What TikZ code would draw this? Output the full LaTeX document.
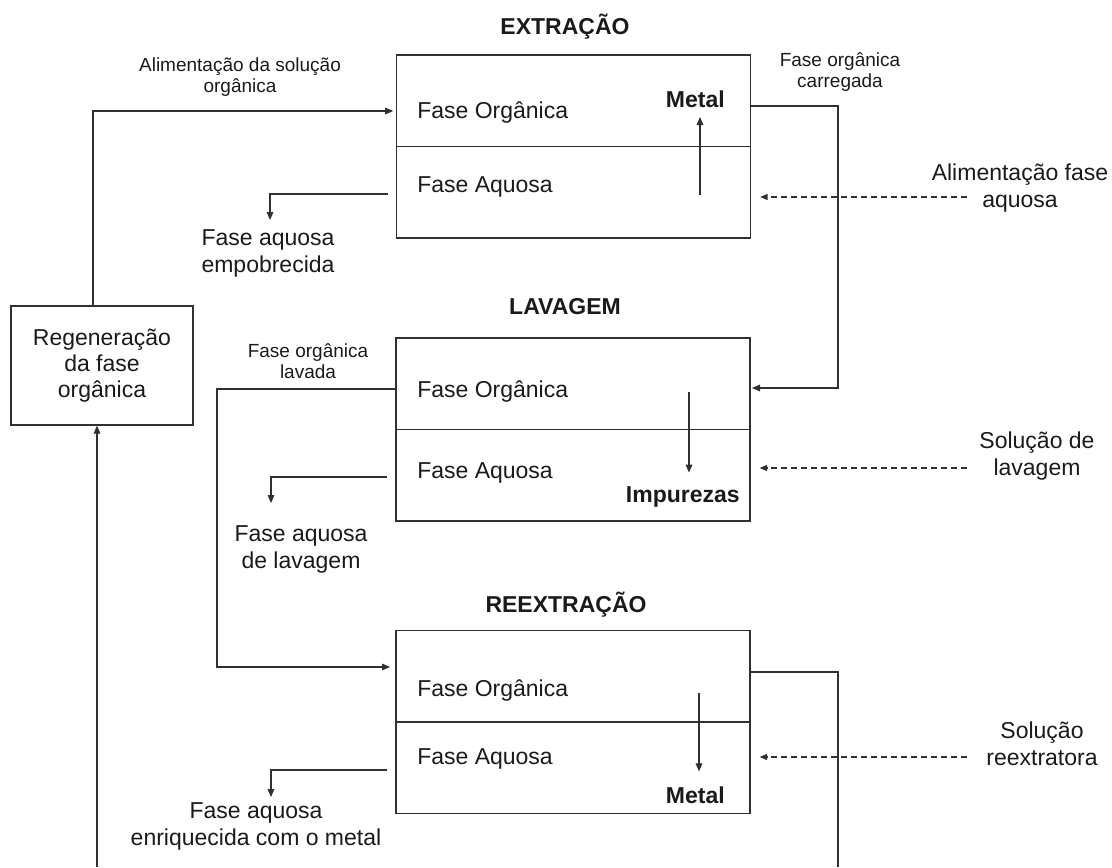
\documentclass[tikz,border=0pt]{standalone}
\usepackage{fontspec}
\setmainfont{Liberation Sans}
\usetikzlibrary{arrows.meta,calc}
\definecolor{linec}{HTML}{303030}
\definecolor{txt}{HTML}{1A1A1A}
\begin{document}
\begin{tikzpicture}[x=0.75pt,y=-0.75pt,
  every node/.style={text=txt, inner sep=0pt},
  lbl/.style={font=\fontsize{17.25}{20.25}\selectfont, align=center},
  small/.style={font=\fontsize{14.25}{15.75}\selectfont, align=center},
  title/.style={font=\bfseries\fontsize{17.25}{20.25}\selectfont, anchor=base},
  tag/.style={font=\bfseries\fontsize{17.25}{20.25}\selectfont, anchor=base east},
  phase/.style={font=\fontsize{17.25}{20.25}\selectfont, anchor=base west},
  stage/.style={draw=linec, line width=1pt, minimum width=265.5pt, minimum height=137.25pt},
  regenbox/.style={draw=linec, line width=1pt, minimum width=136.5pt, minimum height=89.25pt,
    align=center, font=\fontsize{17.25}{19.5}\selectfont},
  plain/.style={draw=linec, line width=0.8pt},
  flow/.style={plain, -{Triangle[length=6pt,width=5pt]}},
  feed/.style={plain, dash pattern=on 4.5pt off 3pt, -{Triangle[length=5.5pt,width=4.5pt]}},
]
\useasboundingbox (0,0) rectangle (1112,867);

% stage vessels
\node[stage] (b1) at (573.5,146.5) {};
\node[stage] (b2) at (573,429.5) {};
\node[stage] (b3) at (573,722) {};
\draw[plain, line width=1pt] (b1.west) -- (b1.east);
\draw[plain, line width=1pt] (b2.west) -- (b2.east);
\draw[plain, line width=1pt] (b3.west) -- (b3.east);

% stage titles
\node[title] (t1) at (565,35) {EXTRAÇÃO};
\node[title] (t2) at (565,314) {LAVAGEM};
\node[title] (t3) at (566,612) {REEXTRAÇÃO};

% phases inside each vessel
\node[phase] (o1) at (417,118) {Fase Orgânica};
\node[phase] (a1) at (417,192) {Fase Aquosa};
\node[phase] (o2) at (417,397) {Fase Orgânica};
\node[phase] (a2) at (417,478) {Fase Aquosa};
\node[phase] (o3) at (417,696) {Fase Orgânica};
\node[phase] (a3) at (417,764) {Fase Aquosa};

% transferred species
\node[tag] (m1) at (725,107) {Metal};
\node[tag] (imp) at (740,502) {Impurezas};
\node[tag] (m3) at (725,803) {Metal};
\coordinate (u1) at (700,195);
\coordinate (u2) at (689,392);
\coordinate (u3) at (699,693);
\draw[flow, shorten >=7.5pt] (u1) -- (u1 |- m1.base);
\draw[flow, shorten >=10pt] (u2) -- (u2 |- imp.north);
\draw[flow, shorten >=11pt] (u3) -- (u3 |- m3.north);

% aqueous feeds
\node[lbl] (f1) at (1020,188.5) {Alimentação fase\\aquosa};
\node[lbl] (f2) at (1037,456) {Solução de\\lavagem};
\node[lbl] (f3) at (1042,743.5) {Solução\\reextratora};
\coordinate (d1) at (967,197);
\coordinate (d2) at (967,468);
\coordinate (d3) at (967,757);
\draw[feed, shorten >=6.75pt] (d1) -- (b1.east |- d1);
\draw[feed, shorten >=6.75pt] (d2) -- (b2.east |- d2);
\draw[feed, shorten >=6.75pt] (d3) -- (b3.east |- d3);

% aqueous outlets
\node[lbl] (e1) at (268,253.5) {Fase aquosa\\empobrecida};
\node[lbl] (e2) at (301,549) {Fase aquosa\\de lavagem};
\node[lbl] (e3) at (256,826) {Fase aquosa\\enriquecida com o metal};
\coordinate (w1) at (270,220);
\coordinate (w2) at (271,503);
\coordinate (w3) at (271,797);
\draw[flow, shorten <=6pt] (b1.west |- 0,194) -| (w1);
\draw[flow, shorten <=6pt] (b2.west |- 0,477) -| (w2);
\draw[flow, shorten <=6pt] (b3.west |- 0,770) -| (w3);

% organic circuit
\node[regenbox] (regen) at (102,365.5) {Regeneração\\da fase\\orgânica};
\node[small] (s1) at (240,77.5) {Alimentação da solução\\orgânica};
\node[small] (s2) at (840,72.5) {Fase orgânica\\carregada};
\node[small] (s3) at (308,361.5) {Fase orgânica\\lavada};

\coordinate (fa) at (93,111);
\draw[flow, shorten >=2pt] (regen.north -| fa) -- (fa) -- (b1.west |- fa);
\coordinate (ca) at (838,106);
\coordinate (cb) at (838,388);
\draw[flow, shorten >=1pt] (b1.east |- ca) -- (ca) -- (cb) -- (b2.east |- cb);
\coordinate (la) at (217,389);
\coordinate (lb) at (217,667);
\draw[flow, shorten >=4pt] (b2.west |- la) -- (la) -- (lb) -- (b3.west |- lb);
\coordinate (ra) at (838,672);
\coordinate (rb) at (838,867);
\draw[plain] (b3.east |- ra) -- (ra) -- (rb);
\coordinate (ba) at (97,867);
\draw[flow] (ba) -- (regen.south -| ba);
\end{tikzpicture}
\end{document}
